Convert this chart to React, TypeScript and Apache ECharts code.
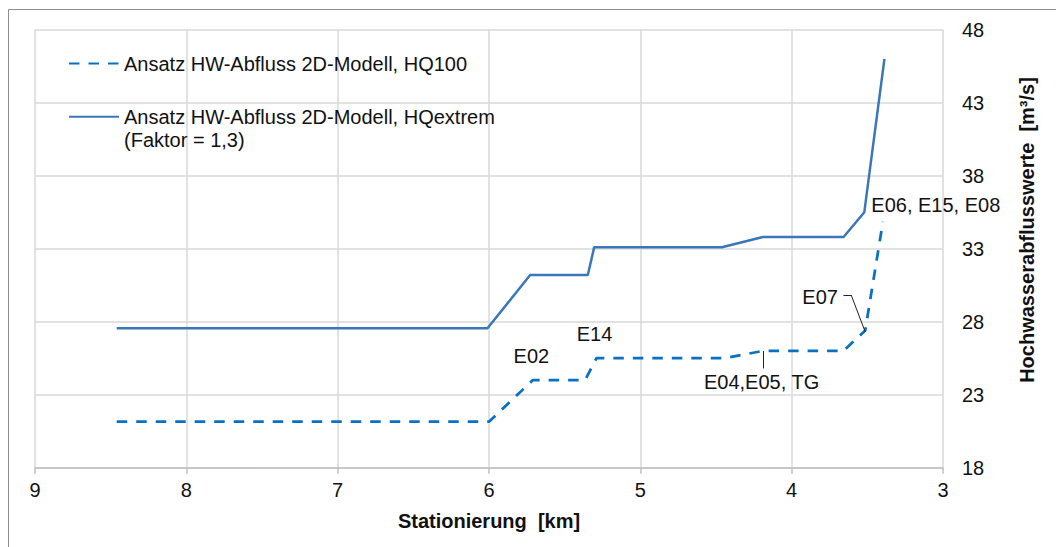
import React, { useEffect, useRef } from "react";
import * as echarts from "echarts";

const FONT = '"Liberation Sans", Arial, sans-serif';
const TEXT = "#111111";

const seriesNames = [
  "Ansatz HW-Abfluss 2D-Modell, HQ100",
  "Ansatz HW-Abfluss 2D-Modell, HQextrem\n(Faktor = 1,3)",
];

// Stationierung [km] and Hochwasserabflusswerte [m³/s]
const hq100Km = [8.46, 6.0, 5.71, 5.365, 5.29, 4.44, 4.19, 3.657, 3.514, 3.397];
const hq100Q = [21.15, 21.15, 24.0, 24.0, 25.5, 25.5, 26.0, 26.0, 27.4, 34.85];

const hqExtKm = [8.46, 6.01, 5.728, 5.347, 5.305, 4.461, 4.19, 3.657, 3.52, 3.387];
const hqExtQ = [27.55, 27.55, 31.2, 31.2, 33.1, 33.1, 33.8, 33.8, 35.5, 46.0];

const xMin = 3;
const xMax = 9;
const yMin = 18;
const yMax = 48;
const yStep = 5;

const annotationLabels = ["E02", "E14", "E04,E05, TG", "E07", "E06, E15, E08"];
const annotationKm = [5.841, 5.424, 4.583, 3.933, 3.477];
const annotationQ = [25.67, 27.16, 23.87, 29.71, 35.97];

const leaderFrom = [
  [4.19, 26.0],
  [3.658, 29.83],
  [3.607, 29.83],
];
const leaderTo = [
  [4.19, 24.8],
  [3.607, 29.83],
  [3.514, 27.3],
];

export default function App() {
  const ref = useRef<HTMLDivElement>(null);

  useEffect(() => {
    if (!ref.current) return;
    const chart = echarts.init(ref.current, undefined, { renderer: "svg" });

    const hq100 = hq100Km.map((k, i) => [k, hq100Q[i]]);
    const hqExt = hqExtKm.map((k, i) => [k, hqExtQ[i]]);
    const ann = annotationLabels.map((t, i) => [annotationKm[i], annotationQ[i], t]);
    const leaders = leaderFrom.map((f, i) => [{ coord: f }, { coord: leaderTo[i] }]);

    const legendText = { fontSize: 20, color: TEXT, fontFamily: FONT, lineHeight: 23 };

    chart.setOption({
      animation: false,
      backgroundColor: "#ffffff",
      textStyle: { fontFamily: FONT },
      grid: { left: 35, right: 113, top: 29.7, bottom: 79.3, containLabel: false },
      legend: [
        {
          data: [seriesNames[0]],
          left: 68,
          top: 52,
          padding: 0,
          itemWidth: 50,
          itemHeight: 14,
          selectedMode: false,
          itemStyle: { opacity: 0 },
          textStyle: legendText,
        },
        {
          data: [seriesNames[1]],
          left: 68,
          top: 82.2,
          padding: 0,
          itemWidth: 50,
          itemHeight: 14,
          selectedMode: false,
          itemStyle: { opacity: 0 },
          formatter: (name: string) => " \n" + name,
          textStyle: legendText,
        },
      ],
      xAxis: {
        type: "value",
        min: xMin,
        max: xMax,
        interval: 1,
        inverse: true,
        name: "Stationierung  [km]",
        nameLocation: "middle",
        nameGap: 43,
        nameTextStyle: { fontSize: 20, fontWeight: "bold", color: TEXT, fontFamily: FONT },
        axisLine: { show: true, lineStyle: { color: "#BFBFBF", width: 1.5 } },
        axisTick: { show: true, length: 6, lineStyle: { color: "#BFBFBF", width: 1.5 } },
        axisLabel: { fontSize: 20, color: TEXT, margin: 12, fontFamily: FONT },
        splitLine: { show: true, lineStyle: { color: "#D9D9D9", width: 1.5 } },
      },
      yAxis: {
        type: "value",
        position: "right",
        min: yMin,
        max: yMax,
        interval: yStep,
        axisLine: { show: false },
        axisTick: { show: false },
        axisLabel: { fontSize: 20, color: TEXT, margin: 19, fontFamily: FONT },
        splitLine: { show: true, lineStyle: { color: "#D9D9D9", width: 1.5 } },
      },
      series: [
        {
          name: seriesNames[0],
          type: "line",
          data: hq100,
          symbol: "none",
          color: "#0A71C2",
          lineStyle: { color: "#0A71C2", width: 2.75, type: [10.5, 9] },
          z: 3,
        },
        {
          name: seriesNames[1],
          type: "line",
          data: hqExt,
          symbol: "none",
          color: "#3A77B8",
          lineStyle: { color: "#3A77B8", width: 2.5, type: "solid" },
          z: 3,
        },
        {
          name: "Bezeichnungen",
          type: "scatter",
          data: ann,
          symbolSize: 1,
          itemStyle: { color: "rgba(0,0,0,0)", opacity: 1 },
          silent: true,
          label: {
            show: true,
            position: "right",
            distance: 0,
            formatter: (p: any) => p.value[2],
            fontSize: 20,
            color: TEXT,
            opacity: 1,
            fontFamily: FONT,
          },
          markLine: {
            silent: true,
            symbol: ["none", "none"],
            label: { show: false },
            lineStyle: { color: "#222222", width: 1, type: "solid", opacity: 1 },
            data: leaders,
          },
          z: 4,
        },
      ],
      graphic: [
        {
          type: "rect",
          shape: { x: 8.5, y: 9.5, width: 1100, height: 600 },
          style: { fill: "none", stroke: "#8C8C8C", lineWidth: 1 },
          silent: true,
        },
        {
          type: "text",
          x: 1027,
          y: 230,
          rotation: Math.PI / 2,
          style: {
            text: "Hochwasserabflusswerte  [m³/s]",
            fontSize: 20,
            fontWeight: "bold",
            fontFamily: FONT,
            fill: TEXT,
            align: "center",
            verticalAlign: "middle",
          },
          silent: true,
        },
      ],
    });

    return () => chart.dispose();
  }, []);

  return (
    <div
      ref={ref}
      style={{ position: "fixed", left: 0, top: 0, width: 1056, height: 547, background: "#fff" }}
    />
  );
}
